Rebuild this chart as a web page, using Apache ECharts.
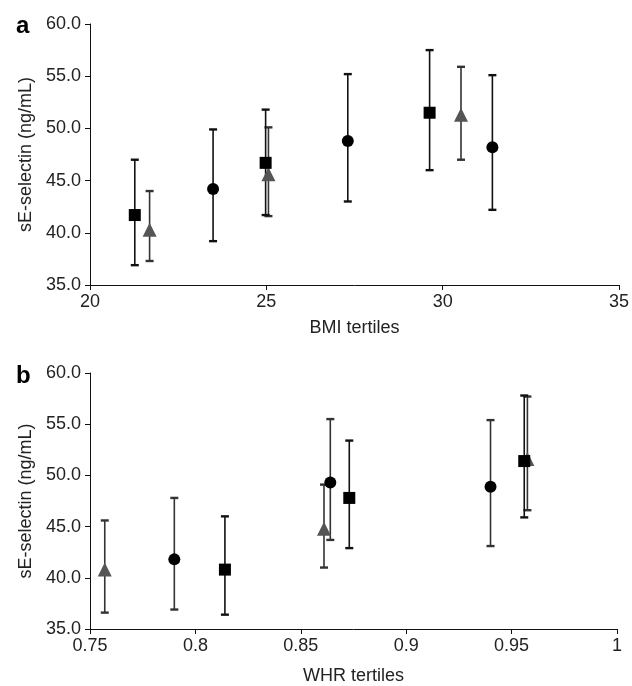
<!DOCTYPE html>
<html>
<head>
<meta charset="utf-8">
<script src="https://cdn.jsdelivr.net/npm/echarts@6/dist/echarts.min.js"></script>
<style>
  html, body { margin: 0; padding: 0; background: #fff; }
  #chart { width: 632px; height: 686px; }
</style>
</head>
<body>
<div id="chart"></div>
<script>
// panel a: BMI tertiles
const bmiTicks = [20, 25, 30, 35];
const bmiSquareX = [21.27, 24.98, 29.63];
const bmiSquareY = [41.7, 46.7, 51.5];
const bmiSquareLo = [36.9, 41.7, 46.0];
const bmiSquareHi = [47.0, 51.8, 57.5];
const bmiTriangleX = [21.69, 25.06, 30.52];
const bmiTriangleY = [40.3, 45.6, 51.3];
const bmiTriangleLo = [37.3, 41.6, 47.0];
const bmiTriangleHi = [44.0, 50.1, 55.9];
const bmiCircleX = [23.49, 27.31, 31.41];
const bmiCircleY = [44.2, 48.8, 48.2];
const bmiCircleLo = [39.2, 43.0, 42.2];
const bmiCircleHi = [49.9, 55.2, 55.1];

// panel b: WHR tertiles
const whrTicks = [0.75, 0.8, 0.85, 0.9, 0.95, 1];
const whrSquareX = [0.814, 0.873, 0.956];
const whrSquareY = [40.8, 47.8, 51.4];
const whrSquareLo = [36.4, 42.9, 45.9];
const whrSquareHi = [46.0, 53.4, 57.8];
const whrTriangleX = [0.757, 0.861, 0.9575];
const whrTriangleY = [40.8, 44.8, 51.6];
const whrTriangleLo = [36.6, 41.0, 46.6];
const whrTriangleHi = [45.6, 49.1, 57.7];
const whrCircleX = [0.790, 0.864, 0.940];
const whrCircleY = [41.8, 49.3, 48.9];
const whrCircleLo = [36.9, 43.7, 43.1];
const whrCircleHi = [47.8, 55.5, 55.4];

const yTicks = [35, 40, 45, 50, 55, 60];

const font = 'Liberation Sans, Arial, sans-serif';

function points(xs, ys) {
  return xs.map((x, i) => [x, ys[i]]);
}
function bars(xs, lo, hi) {
  return xs.map((x, i) => [x, lo[i], hi[i]]);
}

function errorBars(idx, data, color) {
  return {
    type: 'custom',
    xAxisIndex: idx,
    yAxisIndex: idx,
    z: 2,
    silent: true,
    encode: { x: 0, y: [1, 2] },
    data: data,
    renderItem: function (params, api) {
      const x = api.value(0);
      const top = api.coord([x, api.value(2)]);
      const bot = api.coord([x, api.value(1)]);
      const cap = 4;
      return {
        type: 'group',
        children: [
          { type: 'line', shape: { x1: top[0], y1: top[1], x2: bot[0], y2: bot[1] }, style: { stroke: color, lineWidth: 1.6 } },
          { type: 'line', shape: { x1: top[0] - cap, y1: top[1], x2: top[0] + cap, y2: top[1] }, style: { stroke: color, lineWidth: 2.4 } },
          { type: 'line', shape: { x1: bot[0] - cap, y1: bot[1], x2: bot[0] + cap, y2: bot[1] }, style: { stroke: color, lineWidth: 2.4 } }
        ]
      };
    }
  };
}

function markers(idx, data, symbol, size, color) {
  return {
    type: 'scatter',
    xAxisIndex: idx,
    yAxisIndex: idx,
    z: 3,
    symbol: symbol,
    symbolSize: size,
    itemStyle: { color: color, opacity: 1 },
    data: data
  };
}

function xAxis(idx, min, max, interval, name, gap, fmt) {
  return {
    type: 'value', gridIndex: idx, min: min, max: max, interval: interval,
    name: name, nameLocation: 'middle', nameGap: gap,
    nameTextStyle: { color: '#222', fontSize: 18, fontFamily: font },
    axisLine: { show: true, lineStyle: { color: '#111', width: 1 } },
    axisTick: { show: true, length: 5, lineStyle: { color: '#111' } },
    axisLabel: { color: '#222', fontSize: 18, fontFamily: font, margin: 8, formatter: fmt, showMaxLabel: true, showMinLabel: true },
    splitLine: { show: false }
  };
}

function yAxis(idx) {
  return {
    type: 'value', gridIndex: idx, min: yTicks[0], max: yTicks[yTicks.length - 1], interval: 5,
    name: 'sE-selectin (ng/mL)', nameLocation: 'middle', nameGap: 52,
    nameTextStyle: { color: '#222', fontSize: 18, fontFamily: font },
    axisLine: { show: true, lineStyle: { color: '#111', width: 1 } },
    axisTick: { show: true, length: 5, lineStyle: { color: '#111' } },
    axisLabel: { color: '#222', fontSize: 18, fontFamily: font, margin: 9, formatter: v => v.toFixed(1) },
    splitLine: { show: false }
  };
}

const chart = echarts.init(document.getElementById('chart'), null, { renderer: 'canvas' });
chart.setOption({
  animation: false,
  backgroundColor: '#fff',
  title: [
    { text: 'a', left: 11, top: 9, textStyle: { fontSize: 24, fontWeight: 'bold', color: '#000', fontFamily: font } },
    { text: 'b', left: 11, top: 359, textStyle: { fontSize: 24, fontWeight: 'bold', color: '#000', fontFamily: font } }
  ],
  grid: [
    { left: 90, top: 24, width: 533, height: 261 },
    { left: 90, top: 373, width: 527, height: 261 }
  ],
  xAxis: [
    xAxis(0, bmiTicks[0], bmiTicks[bmiTicks.length - 1], 5, 'BMI tertiles', 34, v => String(v)),
    xAxis(1, whrTicks[0], whrTicks[whrTicks.length - 1], 0.05, 'WHR tertiles', 38, v => String(parseFloat(v.toFixed(2))))
  ],
  yAxis: [yAxis(0), yAxis(1)],
  series: [
    errorBars(0, bars(bmiTriangleX, bmiTriangleLo, bmiTriangleHi), '#333'),
    errorBars(0, bars(bmiSquareX, bmiSquareLo, bmiSquareHi), '#111'),
    errorBars(0, bars(bmiCircleX, bmiCircleLo, bmiCircleHi), '#111'),
    markers(0, points(bmiTriangleX, bmiTriangleY), 'triangle', 14, '#555'),
    markers(0, points(bmiSquareX, bmiSquareY), 'rect', 12, '#000'),
    markers(0, points(bmiCircleX, bmiCircleY), 'circle', 12, '#000'),

    errorBars(1, bars(whrTriangleX, whrTriangleLo, whrTriangleHi), '#333'),
    errorBars(1, bars(whrSquareX, whrSquareLo, whrSquareHi), '#111'),
    errorBars(1, bars(whrCircleX, whrCircleLo, whrCircleHi), '#333'),
    markers(1, points(whrTriangleX, whrTriangleY), 'triangle', 14, '#555'),
    markers(1, points(whrSquareX, whrSquareY), 'rect', 12, '#000'),
    markers(1, points(whrCircleX, whrCircleY), 'circle', 12, '#000')
  ]
});
</script>
</body>
</html>
